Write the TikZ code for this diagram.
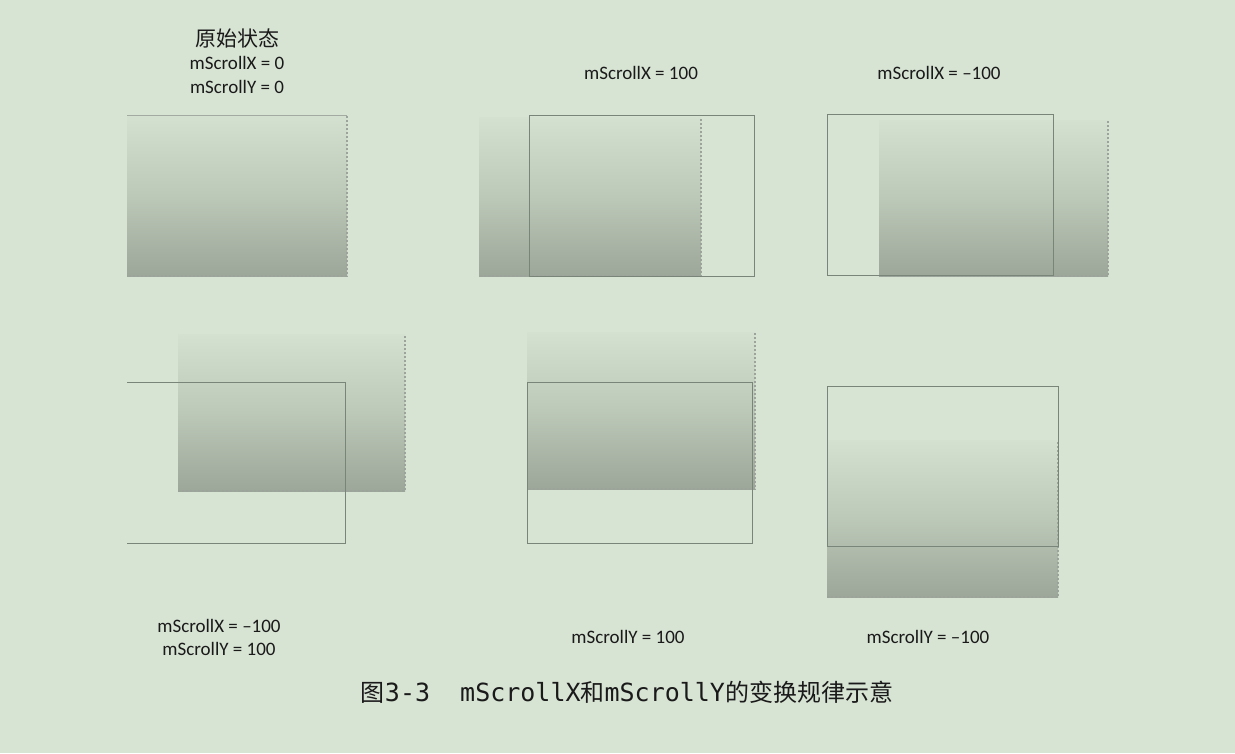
\documentclass[tikz,border=0pt]{standalone}
\usepackage{fontspec}
\setmainfont{Carlito}
\newfontfamily\cjk{Noto Sans CJK SC}
\newfontfamily\capmono{DejaVu Sans Mono}
\definecolor{bg}{HTML}{D7E3D3}
\definecolor{gtop}{HTML}{D4E0D0}
\definecolor{gmid}{HTML}{BCC8B8}
\definecolor{gbot}{HTML}{9CA699}
\definecolor{frame}{HTML}{7A857A}
\definecolor{dotc}{HTML}{9BA39B}
\definecolor{txt}{HTML}{1A1A1A}
\tikzset{
  grad/.style={top color=gtop, bottom color=gbot, middle color=gmid, shading=axis},
  dotedge/.style={draw=dotc, line width=2.2pt, dash pattern=on 2pt off 2pt},
  viewbox/.style={draw=frame, line width=1pt},
  lbl/.style={font=\fontsize{19}{22}\selectfont, text=txt, inner sep=0pt, align=center},
}
\begin{document}
\begin{tikzpicture}[x=1pt,y=-1pt]
\fill[bg] (0,0) rectangle (1235,753);
\useasboundingbox (0,0) rectangle (1235,753);

% ---------- panel 1 ----------
\shade[grad] (127,115) rectangle (347,276);
\draw[dotedge] (347,116) -- (347,276) -- (127,276);
\draw[draw=frame!70, line width=0.7pt] (127,115) -- (347,115);
\node[lbl, font=\fontsize{21}{24}\selectfont] (t1a) at (237,38) {{\cjk 原始状态}};
\node[lbl] (t1b) at (237,63) {mScrollX = 0};
\node[lbl] (t1c) at (237,87) {mScrollY = 0};

% ---------- panel 2 ----------
\shade[grad] (479,117) rectangle (701,276);
\draw[dotedge] (701,119) -- (701,276) -- (479,276);
\draw[viewbox] (529,115) rectangle (754,276);
\node[lbl] (t2) at (641,73) {mScrollX = 100};

% ---------- panel 3 ----------
\shade[grad] (879,120) rectangle (1108,276);
\draw[dotedge] (1108,121) -- (1108,276) -- (880,276);
\draw[viewbox] (827,114) rectangle (1053,275);
\node[lbl] (t3) at (939,73) {mScrollX = --100};

% ---------- panel 4 ----------
\shade[grad] (178,334) rectangle (405,491);
\draw[dotedge] (405,336) -- (405,491) -- (178,491);
\draw[viewbox] (127,382) -- (345,382) -- (345,543) -- (127,543);
\node[lbl] (t4a) at (219,626) {mScrollX = --100};
\node[lbl] (t4b) at (219,649) {mScrollY = 100};

% ---------- panel 5 ----------
\shade[grad] (527,332) rectangle (755,489);
\draw[dotedge] (755,333) -- (755,489) -- (527,489);
\draw[viewbox] (527,382) rectangle (752,543);
\node[lbl] (t5) at (628,637) {mScrollY = 100};

% ---------- panel 6 ----------
\shade[grad] (827,440) rectangle (1058,597);
\draw[dotedge] (1058,442) -- (1058,597) -- (827,597);
\draw[viewbox] (827,386) rectangle (1058,546);
\node[lbl] (t6) at (928,637) {mScrollY = --100};

% ---------- caption ----------
\node[inner sep=0pt, text=txt] (cap) at (627,692)
  {{\cjk\fontsize{24}{28}\selectfont 图}{\capmono\fontsize{25}{28}\selectfont 3-3\ \ mScrollX}{\cjk\fontsize{24}{28}\selectfont 和}{\capmono\fontsize{25}{28}\selectfont mScrollY}{\cjk\fontsize{24}{28}\selectfont 的变换规律示意}};
\end{tikzpicture}
\end{document}
